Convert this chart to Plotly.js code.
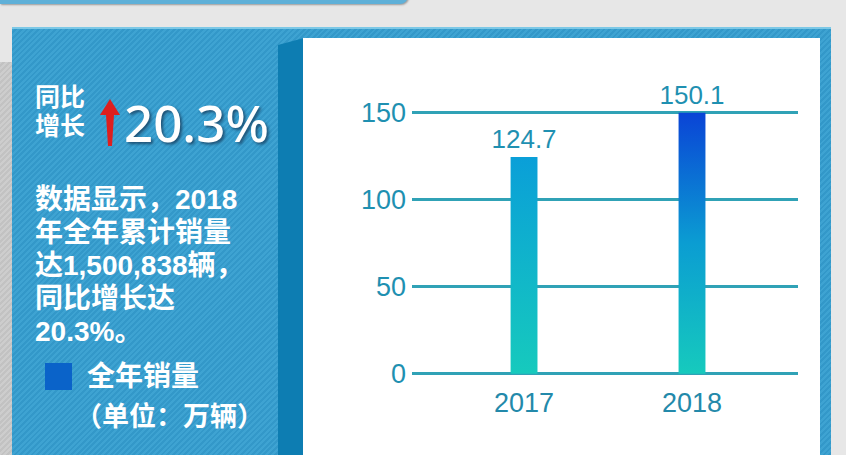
<!DOCTYPE html>
<html>
<head>
<meta charset="utf-8">
<script src="https://cdn.plot.ly/plotly-3.0.1.min.js"></script>
<style>
  html, body { margin: 0; padding: 0; }
  body {
    width: 846px; height: 455px; overflow: hidden; position: relative;
    background: #e7e7e7;
    font-family: "Noto Sans CJK SC", "Noto Sans", sans-serif;
  }
  #topband {
    position: absolute; left: 0; top: -8px; width: 408px; height: 12px;
    background: #5fb0d8; border-radius: 0 0 8px 0;
    box-shadow: 1px 1px 2px #9a9a9a;
  }
  #leftstrip {
    position: absolute; left: 0; top: 62px; width: 12px; bottom: 0;
    background: repeating-linear-gradient(135deg, #cdcdcd 0 2px, #c2c2c2 2px 4px);
  }
  #panel {
    position: absolute; left: 12px; top: 27px; width: 819px; bottom: -10px;
    background: repeating-linear-gradient(135deg, #3ea3d2 0 2px, #3398c9 2px 4px);
    border-top: 2px solid #7cc8e6;
  }
  #side {
    position: absolute; left: 278px; top: 38px; width: 26px; bottom: 0;
    background: #0d7db2;
    clip-path: polygon(0 7px, 100% 0, 100% 100%, 0 100%);
  }
  #card {
    position: absolute; left: 303px; top: 38px; width: 517px; bottom: -10px;
    background: #ffffff;
  }
  #chart { position: absolute; left: 303px; top: 38px; width: 517px; height: 417px; }
  .w {
    position: absolute; color: #ffffff; font-weight: 700; white-space: nowrap;
    font-family: "Liberation Sans", "Noto Sans CJK SC", sans-serif;
  }
  #tb1 { left: 35px; top: 83px; font-size: 25px; line-height: 29px; }
  #big {
    left: 124px; top: 92px; font-size: 51px; line-height: 60px; font-weight: 500;
    font-family: "Noto Sans", "DejaVu Sans", sans-serif;
    text-shadow: 2px 2px 3px rgba(20,50,80,0.7);
  }
  #arrow { position: absolute; left: 99px; top: 99px; }
  #para { left: 35px; top: 183px; font-size: 28px; line-height: 33px; }
  #legsq { position: absolute; left: 45px; top: 363px; width: 27px; height: 27px; background: #0a63c9; }
  #legtx { left: 87px; top: 359px; font-size: 28px; line-height: 36px; }
  #unit { left: 75px; top: 399px; font-size: 27px; line-height: 36px; }
</style>
</head>
<body>
<svg width="0" height="0" style="position:absolute">
  <defs>
    <linearGradient id="grad0" x1="0" y1="1" x2="0" y2="0">
      <stop offset="0" stop-color="#16cabd"/>
      <stop offset="1" stop-color="#0a9fd8"/>
    </linearGradient>
    <linearGradient id="grad1" x1="0" y1="1" x2="0" y2="0">
      <stop offset="0" stop-color="#16cabd"/>
      <stop offset="0.5" stop-color="#0b9dd2"/>
      <stop offset="1" stop-color="#0a44d6"/>
    </linearGradient>
  </defs>
</svg>
<div id="topband"></div>
<div id="leftstrip"></div>
<div id="panel"></div>
<div id="side"></div>
<div id="card"></div>

<div class="w" id="tb1">同比<br>增长</div>
<svg id="arrow" width="22" height="48">
  <polygon points="11,0 21,16 15,16 13,47 9,47 7,16 1,16" fill="#dd1f1f"/>
</svg>
<div class="w" id="big">20.3%</div>
<div class="w" id="para">数据显示，2018<br>年全年累计销量<br>达1,500,838辆，<br>同比增长达<br>20.3%。</div>
<div id="legsq"></div>
<div class="w" id="legtx">全年销量</div>
<div class="w" id="unit">（单位：万辆）</div>

<div id="chart"></div>
<script>
var years = ['2017', '2018'];
var sales = [124.7, 150.1];
var salesLabels = ['124.7', '150.1'];
var yTicks = [0, 50, 100, 150];

var gridColor = '#30a2b6';
var textColor = '#1f90b1';

var trace = {
    x: years,
    y: sales,
    type: 'bar',
    width: 0.16,
    text: salesLabels,
    textposition: 'outside',
    constraintext: 'none',
    cliponaxis: false,
    textfont: { family: 'Liberation Sans, Arial, sans-serif', size: 26, color: textColor },
    marker: { color: ['#0a9fd8', '#0a44d6'], line: { width: 0 } },
    hoverinfo: 'none'
};

var layout = {
    width: 517,
    height: 417,
    margin: { l: 109, r: 22, t: 61, b: 76, pad: 0 },
    paper_bgcolor: 'rgba(0,0,0,0)',
    plot_bgcolor: 'rgba(0,0,0,0)',
    showlegend: false,
    xaxis: {
        type: 'category',
        range: [-0.667, 1.631],
        showgrid: false,
        showline: false,
        zeroline: false,
        ticks: '',
        ticklabelstandoff: 5,
        tickfont: { family: 'Liberation Sans, Arial, sans-serif', size: 27, color: '#2389aa' }
    },
    yaxis: {
        range: [-3, 158],
        tickvals: yTicks,
        ticktext: yTicks.map(String),
        showgrid: true,
        gridcolor: gridColor,
        gridwidth: 3,
        zeroline: true,
        zerolinecolor: gridColor,
        zerolinewidth: 3,
        showline: false,
        ticks: '',
        ticklabelstandoff: 5,
        tickfont: { family: 'Liberation Sans, Arial, sans-serif', size: 27, color: textColor }
    }
};

Plotly.newPlot('chart', [trace], layout, { staticPlot: true, displayModeBar: false }).then(function (gd) {
    // gradient fill for the bars
    var paths = gd.querySelectorAll('.trace.bars .point path');
    paths.forEach(function (p, i) {
        p.style.fill = 'url(#grad' + i + ')';
    });
});
</script>
</body>
</html>
